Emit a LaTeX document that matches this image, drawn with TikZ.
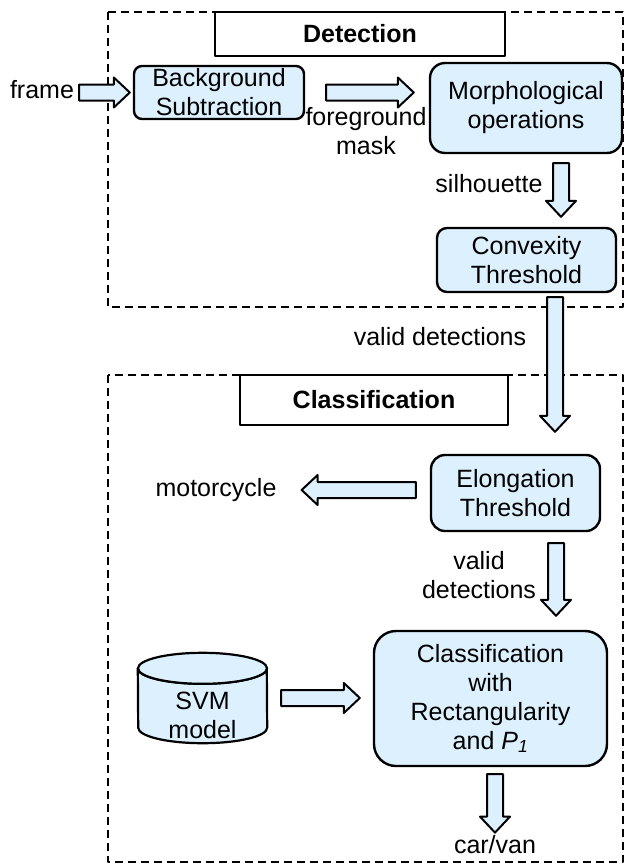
\documentclass[tikz,border=0pt]{standalone}
\usepackage{fontspec}
\setmainfont{Liberation Sans}
\usetikzlibrary{calc}
\definecolor{boxblue}{RGB}{220,240,253}
\newcommand{\blockarrow}[2]{%
  \coordinate (ba) at #1;
  \coordinate (bb) at #2;
  \coordinate (bh) at ($(bb)!16pt!(ba)$);
  \path[blockarr] ($(ba)!8pt!90:(bb)$)--($(bh)!8pt!90:(bb)$)--($(bh)!15pt!90:(bb)$)--(bb)
    --($(bh)!15pt!-90:(bb)$)--($(bh)!8pt!-90:(bb)$)--($(ba)!8pt!-90:(bb)$)--cycle;
}
\begin{document}
\begin{tikzpicture}[x=1pt, y=-1pt, line join=round,
  txt/.style={font=\fontsize{25}{29}\selectfont, align=center, inner sep=0pt},
  box/.style={txt, draw, line width=2.4pt, fill=boxblue, rounded corners=12pt},
  titlebox/.style={draw, line width=2pt, fill=white, font=\fontsize{25}{29}\selectfont\bfseries, inner sep=0pt},
  groupbox/.style={draw, line width=2pt, dash pattern=on 8pt off 5pt},
  blockarr/.style={draw, fill=boxblue, line width=2pt}]
\useasboundingbox (0,0) rectangle (625,863);
\draw[groupbox] (108,12) rectangle (623,307);
\draw[groupbox] (108,375) rectangle (623,862);
\node[titlebox, minimum width=290pt, minimum height=44pt] (dettitle) at (360,34) {\raisebox{-4pt}{Detection}};
\node[titlebox, minimum width=268pt, minimum height=50pt] (clstitle) at (374,400) {\raisebox{-4pt}{Classification}};

\node[txt] (frame) at (42,90) {frame};
\node[box, minimum width=170pt, minimum height=53pt, rounded corners=8pt] (bg) at (219,92.5) {Background\\Subtraction};
\node[box, minimum width=192pt, minimum height=90pt, rounded corners=15pt] (morph) at (526,108) {Morphological\\operations};
\node[txt] (fg) at (366,131.5) {foreground\\mask};
\node[txt] (sil) at (489,184) {silhouette};
\node[box, minimum width=179pt, minimum height=64pt, rounded corners=10pt] (conv) at (526.5,260) {Convexity\\Threshold};
\node[txt] (valid1) at (440,337) {valid detections};
\node[box, minimum width=169pt, minimum height=76pt, rounded corners=14pt] (elong) at (515.5,493) {Elongation\\Threshold};
\node[txt] (moto) at (216,490) {motorcycle};
\node[txt] (valid2) at (479,575) {valid\\detections};
\node[box, minimum width=233pt, minimum height=135pt, rounded corners=22pt] (cls) at (490.5,698.5) {Classification\\with\\Rectangularity\\and {\itshape P\textsubscript{1}}};
\node[minimum width=129pt, minimum height=90pt, inner sep=0pt] (svm) at (202.5,698) {};
\filldraw[fill=boxblue, line width=2.2pt] ([yshift=-15.5pt]svm.north west) arc[start angle=180, end angle=360, x radius=64.5pt, y radius=15.5pt]
  -- ([yshift=15.5pt]svm.south east) arc[start angle=0, end angle=-180, x radius=64.5pt, y radius=15.5pt] -- cycle;
\filldraw[fill=boxblue, line width=2.2pt] ([yshift=-15.5pt]svm.north) ellipse[x radius=64.5pt, y radius=15.5pt];
\node[txt] (svmtxt) at (202.5,715.5) {SVM\\model};
\node[txt] (car) at (495,845) {car/van};

\blockarrow{([xshift=5pt]frame.east |- bg.west)}{([xshift=-3pt]bg.west)}
\blockarrow{([xshift=21pt]bg.east)}{([xshift=-15pt]morph.west |- bg.east)}
\blockarrow{([xshift=35pt,yshift=-9pt]morph.south)}{([xshift=34.5pt,yshift=10pt]conv.north)}
\blockarrow{([xshift=28.5pt,yshift=-4pt]conv.south)}{([xshift=39.5pt,yshift=22pt]elong.north)}
\blockarrow{([xshift=-14pt]elong.west |- moto.east)}{([xshift=25pt]moto.east)}
\blockarrow{([xshift=40.5pt,yshift=-11pt]elong.south)}{([xshift=65.5pt,yshift=14pt]cls.north)}
\blockarrow{([xshift=14pt]svm.east)}{([xshift=-13pt]cls.west |- svm.east)}
\blockarrow{([yshift=-7pt]cls.south -| car.north)}{([yshift=3pt]car.north)}
\end{tikzpicture}
\end{document}
